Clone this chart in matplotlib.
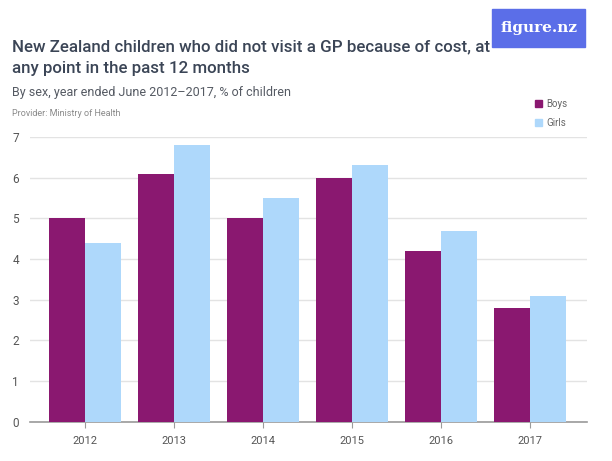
import numpy as np
import matplotlib.pyplot as plt

plt.rcParams['font.family'] = ['Roboto', 'DejaVu Sans']

years = ['2012', '2013', '2014', '2015', '2016', '2017']
boys = [5.0, 6.1, 5.0, 6.0, 4.2, 2.8]
girls = [4.4, 6.8, 5.5, 6.3, 4.7, 3.1]

boy_col = '#8a1870'
girl_col = '#aed8fb'
text_col = '#3b4556'

fig = plt.figure(figsize=(6.12, 4.61), dpi=100)
ax = fig.add_axes([0.049, 0.085, 0.91, 0.618])

x = np.arange(len(years))
w = 0.405
ax.bar(x - w / 2, boys, w, color=boy_col, label='Boys', zorder=3)
ax.bar(x + w / 2, girls, w, color=girl_col, label='Girls', zorder=3)

ax.set_xlim(-0.62, 5.64)
ax.set_ylim(0, 7)
ax.set_yticks(range(8))
ax.set_xticks(x)
ax.set_xticklabels(years)
ax.grid(axis='y', color='#e3e3e3', linewidth=1, zorder=0)
for s in ['top', 'right', 'left']:
    ax.spines[s].set_visible(False)
ax.spines['bottom'].set_color('#9a9a9a')
ax.spines['bottom'].set_linewidth(1.2)
ax.tick_params(axis='y', length=0, labelsize=8.5, colors='#555555', pad=8)
ax.tick_params(axis='x', length=4, color='#9a9a9a', labelsize=8, labelcolor='#555555', pad=6)

fig.text(0.02, 0.915, 'New Zealand children who did not visit a GP because of cost, at\nany point in the past 12 months',
         fontsize=12.2, fontweight='medium', color=text_col, va='top', linespacing=1.6)
fig.text(0.02, 0.8, 'By sex, year ended June 2012\u20132017, % of children', fontsize=9, color='#555a63', va='center')
fig.text(0.02, 0.754, 'Provider: Ministry of Health', fontsize=6.5, color='#8a8a8a', va='center')

# legend
fig.patches.append(plt.Rectangle((0.874, 0.767), 0.011, 0.015, transform=fig.transFigure, color=boy_col))
fig.text(0.893, 0.774, 'Boys', fontsize=7, color='#666666', va='center')
fig.patches.append(plt.Rectangle((0.874, 0.726), 0.011, 0.015, transform=fig.transFigure, color=girl_col))
fig.text(0.893, 0.733, 'Girls', fontsize=7, color='#666666', va='center')

# logo
fig.patches.append(plt.Rectangle((0.804, 0.898), 0.152, 0.082, transform=fig.transFigure, color='#5b6ee8'))
fig.text(0.88, 0.94, 'figure.nz', fontsize=11, color='white', fontweight='bold', family='DejaVu Serif',
         ha='center', va='center')

fig.savefig('out.png', dpi=100)
